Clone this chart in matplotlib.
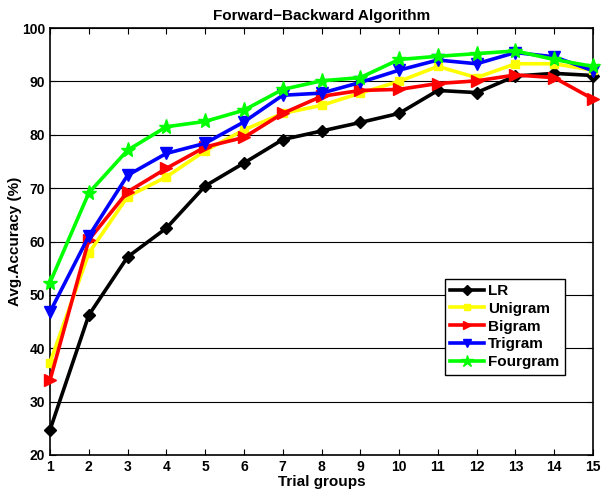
import matplotlib
matplotlib.use('Agg')
import matplotlib.pyplot as plt
import numpy as np

plt.rcParams['font.family'] = ['Liberation Sans', 'DejaVu Sans']
plt.rcParams['font.weight'] = 'bold'

# data

trials = np.arange(1, 16)

lr = [24.7, 46.2, 57.1, 62.5, 70.4, 74.7, 79.1, 80.7, 82.3, 84.0, 88.3, 87.9, 91.0, 91.5, 91.1]
unigram = [37.3, 57.8, 68.4, 72.1, 77.0, 80.9, 84.0, 85.5, 87.8, 90.0, 92.8, 90.7, 93.3, 93.3, 92.1]
bigram = [34.0, 60.3, 69.3, 73.7, 77.7, 79.5, 84.0, 87.2, 88.3, 88.5, 89.6, 90.1, 91.2, 90.7, 86.7]
trigram = [46.8, 61.0, 72.4, 76.5, 78.4, 82.4, 87.4, 87.8, 89.8, 92.1, 94.0, 93.3, 95.4, 94.6, 92.0]
fourgram = [52.3, 69.1, 77.1, 81.5, 82.5, 84.6, 88.5, 90.1, 90.7, 94.1, 94.7, 95.2, 95.7, 94.1, 92.8]

series = [
    ('LR', lr, 'black', 'D', 6),
    ('Unigram', unigram, 'yellow', 's', 6),
    ('Bigram', bigram, 'red', '>', 8),
    ('Trigram', trigram, 'blue', 'v', 8),
    ('Fourgram', fourgram, 'lime', '*', 11),
]

fig = plt.figure(figsize=(6.01, 5.01), dpi=100)
ax = fig.add_axes([50 / 601, 1 - 455 / 501, 543 / 601, 427 / 501])

for name, vals, col, mk, ms in series:
    ax.plot(trials, vals, color=col, marker=mk, markersize=ms, lw=2.6, label=name, clip_on=False, zorder=3)

# horizontal grid only

ax.yaxis.grid(True, color='black', lw=0.8, ls='-')
ax.set_axisbelow(True)

ax.set_xlim(1, 15)
ax.set_ylim(20, 100)
ax.set_xticks(trials)
ax.set_yticks(np.arange(20, 101, 10))
ax.tick_params(direction='in', which='both', top=True, right=True, labelsize=10, length=4)
for lab in ax.get_xticklabels() + ax.get_yticklabels():
    lab.set_fontweight('bold')
for sp in ax.spines.values():
    sp.set_linewidth(1.2)

ax.set_xlabel('Trial groups', fontsize=11, fontweight='bold', labelpad=1)
ax.set_ylabel('Avg.Accuracy (%)', fontsize=11, fontweight='bold', labelpad=0)
ax.set_title('Forward\u2212Backward Algorithm', fontsize=11, fontweight='bold', pad=6)

leg = ax.legend(loc='upper left', bbox_to_anchor=(437 / 601, 1 - 271 / 501), bbox_transform=fig.transFigure,
                fancybox=False, framealpha=1, edgecolor='black', handlelength=2.2, handletextpad=0.3,
                borderpad=0.35, labelspacing=0.25, markerscale=0.8, prop={'weight': 'bold', 'size': 11})
leg.get_frame().set_linewidth(1.0)

fig.savefig('out.png', dpi=100)
